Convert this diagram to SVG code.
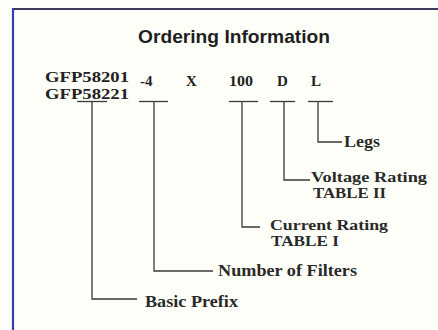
<svg xmlns="http://www.w3.org/2000/svg" width="438" height="330" viewBox="0 0 438 330">
<style>
.title{font-family:"Liberation Sans",Arial,sans-serif;font-weight:bold;font-size:19px;fill:#1e1e1e}
.code{font-family:"Liberation Serif","Times New Roman",serif;font-weight:bold;font-size:15px;fill:#222}
.lab{font-family:"Liberation Serif","Times New Roman",serif;font-weight:bold;font-size:14.5px;fill:#2a2a2a}
.big{font-size:16.5px}
.ln{stroke:#3a3a3a;stroke-width:1.3;fill:none}
</style>
<rect x="0" y="0" width="438" height="330" fill="#fefefb"/>
<rect x="13" y="9" width="425" height="321" fill="#fffff9"/>
<line x1="12" y1="9" x2="438" y2="9" stroke="#3a3a58" stroke-width="2"/>
<line x1="13" y1="8" x2="13" y2="330" stroke="#3c3cb8" stroke-width="2.2"/>
<text class="title" x="234" y="43" text-anchor="middle" textLength="192" lengthAdjust="spacingAndGlyphs">Ordering Information</text>
<g id="code">
<text class="code" x="45" y="82" textLength="84" lengthAdjust="spacingAndGlyphs">GFP58201</text>
<text class="code" x="45" y="99" textLength="84" lengthAdjust="spacingAndGlyphs">GFP58221</text>
<text class="code" x="140" y="86">-4</text>
<text class="code" x="186" y="86">X</text>
<text class="code" x="229" y="86" textLength="24" lengthAdjust="spacingAndGlyphs">100</text>
<text class="code" x="277" y="86">D</text>
<text class="code" x="311" y="86">L</text>
</g>
<g id="connectors">
<polyline class="ln" points="77,101.5 107,101.5"/>
<polyline class="ln" points="92,101.5 92,299 137,299"/>
<polyline class="ln" points="139,101.5 168,101.5"/>
<polyline class="ln" points="154,101.5 154,271 213,271"/>
<polyline class="ln" points="229,101.5 258,101.5"/>
<polyline class="ln" points="242,101.5 242,227 260,227"/>
<polyline class="ln" points="270,101.5 295,101.5"/>
<polyline class="ln" points="284,101.5 284,180 310,180"/>
<polyline class="ln" points="308,101.5 333,101.5"/>
<polyline class="ln" points="318,101.5 318,142 342,142"/>
</g>
<g id="legs"><text class="lab big" x="344" y="147" textLength="36" lengthAdjust="spacingAndGlyphs">Legs</text></g>
<g id="voltage"><text class="lab" x="311" y="182" textLength="116" lengthAdjust="spacingAndGlyphs">Voltage Rating</text><text class="lab" x="313" y="198" textLength="73" lengthAdjust="spacingAndGlyphs">TABLE II</text></g>
<g id="current"><text class="lab" x="270" y="230" textLength="118" lengthAdjust="spacingAndGlyphs">Current Rating</text><text class="lab" x="271" y="246" textLength="68" lengthAdjust="spacingAndGlyphs">TABLE I</text></g>
<g id="filters"><text class="lab big" x="218" y="276" textLength="139" lengthAdjust="spacingAndGlyphs">Number of Filters</text></g>
<g id="prefix"><text class="lab big" x="145" y="307" textLength="93" lengthAdjust="spacingAndGlyphs">Basic Prefix</text></g>
</svg>
